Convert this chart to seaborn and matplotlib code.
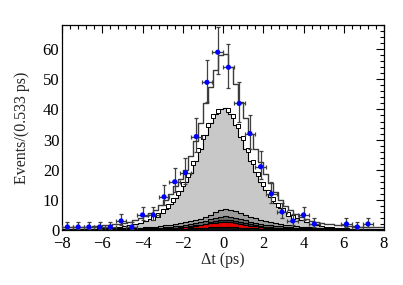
import numpy as np
import pandas as pd
import matplotlib
matplotlib.use("Agg")
import matplotlib.pyplot as plt
from matplotlib.ticker import MultipleLocator
import seaborn as sns

# ---- data ----
x_min, x_max = -8.0, 8.0
n_data_bins = 30
data_counts = [1, 1, 1, 1, 1, 3, 1, 5, 5, 11, 16, 19, 31, 49, 59,
               54, 42, 32, 21, 12, 6, 3, 5, 2, 0, 0, 2, 1, 2, 0]

n_pdf_bins = 64
total_pdf = [0.9, 0.9, 0.9, 1.0, 1.0, 1.1, 1.2, 1.3,
             1.5, 1.7, 1.9, 2.1, 2.4, 2.8, 3.3, 3.9,
             4.7, 5.6, 6.8, 8.2, 10.0, 12.0, 14.5, 17.0,
             20.0, 24.5, 29.5, 35.5, 42.0, 47.5, 53.0, 58.0,
             58.5, 54.0, 48.5, 42.5, 37.0, 32.0, 27.0, 22.5,
             18.5, 15.5, 12.5, 10.0, 8.0, 6.5, 5.3, 4.4,
             3.7, 3.1, 2.7, 2.4, 2.1, 1.9, 1.7, 1.5,
             1.4, 1.3, 1.2, 1.1, 1.0, 1.0, 0.9, 0.9]
signal_top = [0.3, 0.3, 0.35, 0.35, 0.4, 0.4, 0.45, 0.5,
              0.6, 0.7, 0.8, 1.0, 1.2, 1.5, 1.9, 2.4,
              3.0, 3.7, 4.6, 5.7, 7.0, 8.6, 10.5, 13.0,
              15.8, 19.0, 22.8, 27.0, 31.5, 35.5, 38.5, 40.0,
              40.5, 38.5, 35.0, 31.0, 27.0, 23.0, 19.3, 16.0,
              13.2, 10.8, 8.8, 7.2, 5.9, 4.8, 3.9, 3.2,
              2.6, 2.1, 1.7, 1.4, 1.1, 0.9, 0.75, 0.6,
              0.5, 0.45, 0.4, 0.4, 0.35, 0.35, 0.3, 0.3]
bkg1_top = [0.25, 0.25, 0.3, 0.3, 0.3, 0.35, 0.35, 0.4,
            0.4, 0.45, 0.5, 0.55, 0.6, 0.65, 0.7, 0.8,
            0.9, 1.0, 1.1, 1.3, 1.5, 1.7, 1.9, 2.2,
            2.5, 2.9, 3.3, 3.8, 4.4, 5.1, 5.9, 6.6,
            7.0, 6.8, 6.2, 5.6, 5.0, 4.4, 3.9, 3.4,
            3.0, 2.6, 2.3, 2.0, 1.7, 1.5, 1.3, 1.15,
            1.0, 0.9, 0.8, 0.7, 0.6, 0.55, 0.5, 0.45,
            0.4, 0.4, 0.35, 0.35, 0.3, 0.3, 0.25, 0.25]
bkg2_top = [0.15, 0.15, 0.2, 0.2, 0.2, 0.2, 0.25, 0.25,
            0.25, 0.3, 0.3, 0.35, 0.35, 0.4, 0.45, 0.5,
            0.55, 0.6, 0.7, 0.8, 0.9, 1.0, 1.2, 1.4,
            1.6, 1.9, 2.2, 2.6, 3.0, 3.5, 4.0, 4.4,
            4.6, 4.4, 4.0, 3.6, 3.2, 2.8, 2.4, 2.1,
            1.8, 1.6, 1.4, 1.2, 1.05, 0.9, 0.8, 0.7,
            0.6, 0.55, 0.5, 0.45, 0.4, 0.35, 0.3, 0.3,
            0.25, 0.25, 0.2, 0.2, 0.2, 0.2, 0.15, 0.15]
bkg3_top = [0.1, 0.1, 0.1, 0.1, 0.1, 0.1, 0.1, 0.1,
            0.1, 0.15, 0.15, 0.2, 0.2, 0.2, 0.25, 0.3,
            0.3, 0.35, 0.4, 0.45, 0.5, 0.6, 0.7, 0.85,
            1.0, 1.2, 1.5, 1.8, 2.1, 2.5, 2.9, 3.2,
            3.3, 3.2, 2.9, 2.5, 2.2, 1.9, 1.6, 1.3,
            1.1, 0.95, 0.8, 0.7, 0.6, 0.5, 0.45, 0.4,
            0.35, 0.3, 0.25, 0.2, 0.2, 0.2, 0.15, 0.15,
            0.1, 0.1, 0.1, 0.1, 0.1, 0.1, 0.1, 0.1]
red_top = [0.05, 0.05, 0.05, 0.05, 0.05, 0.05, 0.05, 0.05,
           0.05, 0.05, 0.05, 0.05, 0.05, 0.05, 0.1, 0.1,
           0.15, 0.2, 0.25, 0.3, 0.4, 0.5, 0.6, 0.75,
           0.9, 1.1, 1.3, 1.6, 1.9, 2.2, 2.4, 2.6,
           2.6, 2.5, 2.3, 2.0, 1.7, 1.4, 1.2, 1.0,
           0.8, 0.65, 0.5, 0.4, 0.3, 0.25, 0.2, 0.15,
           0.1, 0.1, 0.05, 0.05, 0.05, 0.05, 0.05, 0.05,
           0.05, 0.05, 0.05, 0.05, 0.05, 0.05, 0.05, 0.05]
black_top = [0.03] * 16 + [0.05, 0.05, 0.1, 0.1, 0.15, 0.2, 0.25, 0.3,
             0.4, 0.5, 0.6, 0.7, 0.8, 0.9, 1.0, 1.0,
             1.0, 1.0, 0.9, 0.8, 0.7, 0.6, 0.5, 0.4,
             0.3, 0.25, 0.2, 0.15, 0.1, 0.1, 0.05, 0.05] + [0.03] * 16

xticks = [-8, -6, -4, -2, 0, 2, 4, 6, 8]
yticks = [0, 10, 20, 30, 40, 50, 60]
xlabel = "\u0394t (ps)"
ylabel = "Events/(0.533 ps)"

# ---- figure ----
sns.set_theme(style="white")
plt.rcParams['font.family'] = ['Liberation Serif', 'DejaVu Serif']
plt.rcParams['mathtext.fontset'] = 'stix'

fig = plt.figure(figsize=(4.03, 2.85), dpi=100)
ax = fig.add_axes([0.154, 0.193, 0.799, 0.719])

pdf_edges = np.linspace(x_min, x_max, n_pdf_bins + 1)
pdf_centers = 0.5 * (pdf_edges[:-1] + pdf_edges[1:])
pdf_df = pd.DataFrame({"t": pdf_centers, "total": total_pdf, "sig": signal_top,
                       "b1": bkg1_top, "b2": bkg2_top, "b3": bkg3_top,
                       "red": red_top, "blk": black_top})
edge_list = list(pdf_edges)

# outer total pdf (white, dark outline)
sns.histplot(data=pdf_df, x="t", weights="total", bins=edge_list, element="step",
             fill=False, color="#3a3a3a", linewidth=1.0, ax=ax)

layers = [("sig", "#c8c8c8"), ("b1", "#9c9c9c"), ("b2", "#6a6a6a"),
          ("b3", "#3c3c3c"), ("red", "#e00000"), ("blk", "#101010")]
for col_name, col in layers:
    sns.histplot(data=pdf_df, x="t", weights=col_name, bins=edge_list,
                 element="step", fill=True, color=col, alpha=1.0,
                 edgecolor="black", linewidth=0.8, ax=ax)

# doubled-line corners of the signal outline
sig = np.asarray(signal_top)
corner_x = pdf_edges[1:-1]
corner_y = np.maximum(sig[:-1], sig[1:]) - 0.6
mask = np.abs(np.diff(sig)) > 0.8
ax.scatter(corner_x[mask], corner_y[mask], marker="s", s=8,
           facecolor="white", edgecolor="black", linewidth=0.7, zorder=5)

# data points
d_edges = np.linspace(x_min, x_max, n_data_bins + 1)
d_centers = 0.5 * (d_edges[:-1] + d_edges[1:])
half_w = 0.5 * (d_edges[1] - d_edges[0])
n = np.asarray(data_counts, dtype=float)
sel = n > 0
err_up = np.sqrt(n + 0.25) + 0.5
err_lo = np.sqrt(n + 0.25) - 0.5
ax.errorbar(d_centers[sel], n[sel], yerr=[err_lo[sel], err_up[sel]],
            xerr=half_w, fmt="none", ecolor="#404040", elinewidth=0.9,
            capsize=1.2, capthick=0.9, zorder=6)
ax.scatter(d_centers[sel], n[sel], color="#0000ff", s=14,
           edgecolor="none", zorder=7)

ax.set_xlim(x_min, x_max)
ax.set_ylim(0, 68)
ax.set_xticks(xticks)
ax.set_yticks(yticks)
ax.xaxis.set_minor_locator(MultipleLocator(0.4))
ax.yaxis.set_minor_locator(MultipleLocator(2))
ax.tick_params(which="both", direction="in", top=True, right=True,
               labelsize=12, colors="black")
ax.tick_params(axis="x", pad=4)
ax.tick_params(axis="y", pad=2)
ax.tick_params(which="major", length=6, width=0.8)
ax.tick_params(which="minor", length=3, width=0.8)
ax.set_xticklabels(["\u22128", "\u22126", "\u22124", "\u22122", "0", "2", "4", "6", "8"])
for s in ax.spines.values():
    s.set_color("black")
    s.set_linewidth(0.9)
ax.set_xlabel(xlabel, fontsize=11.5, labelpad=0)
ax.set_ylabel(ylabel, fontsize=11.5, labelpad=9)
ax.grid(False)

fig.savefig("out.png", dpi=100)
